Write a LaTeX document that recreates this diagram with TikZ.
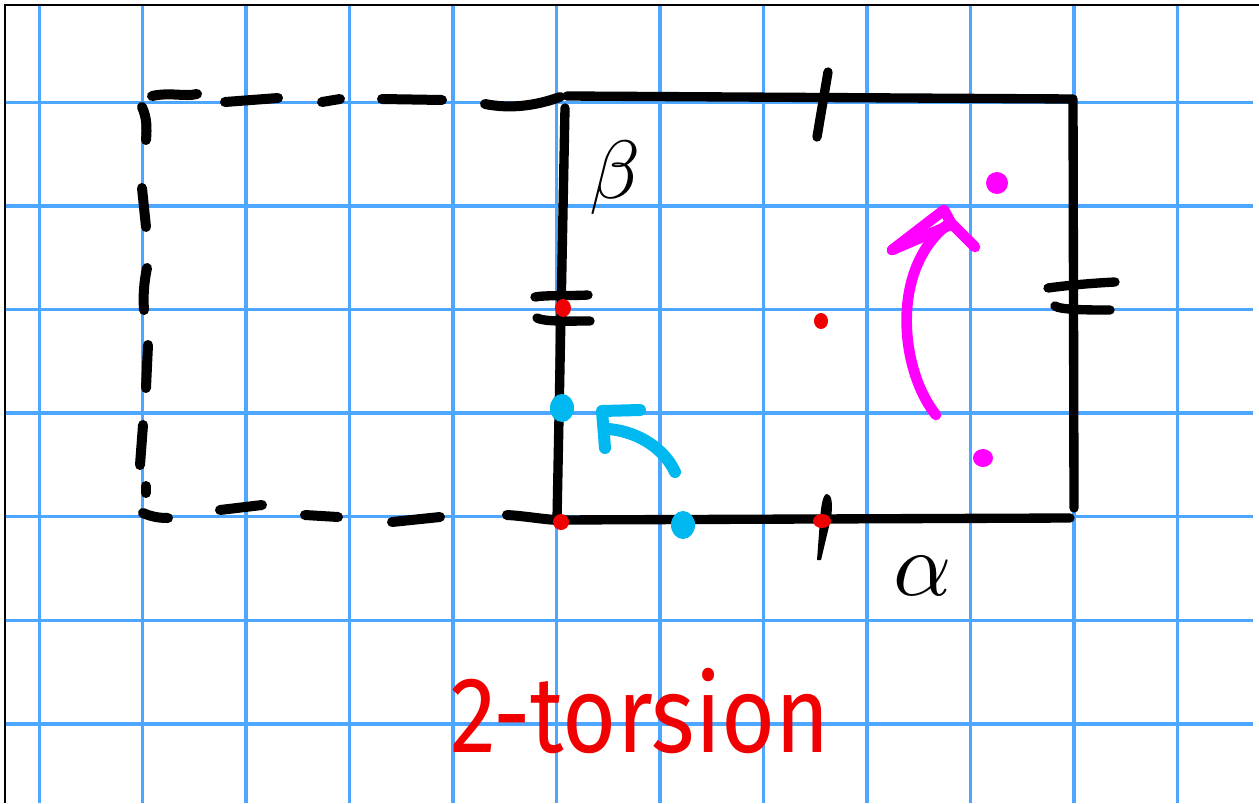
\documentclass[tikz,border=0pt]{standalone}
\usepackage{fontspec}
\setsansfont{Fira Sans}
\definecolor{gridblue}{RGB}{77,166,255}
\definecolor{dotblue}{RGB}{0,184,240}
\definecolor{mag}{RGB}{255,0,255}
\definecolor{pred}{RGB}{240,0,0}
\begin{document}
\begin{tikzpicture}[x=0.75pt,y=-0.75pt,
  gridline/.style={draw=gridblue,line width=2.6pt},
  ink/.style={draw=black,line width=7pt,line cap=round,line join=round},
  dashink/.style={draw=black,line width=7.5pt,line cap=round},
  tickink/.style={draw=black,line width=7pt,line cap=round},
  reddot/.style={fill=pred},
  bluedot/.style={fill=dotblue},
  magdot/.style={fill=mag},
  bluepen/.style={draw=dotblue,line width=9pt,line cap=round,line join=round},
  magpen/.style={draw=mag,line width=8pt,line cap=round,line join=round}]
\useasboundingbox (0,0) rectangle (1259,803);
\fill[white] (0,0) rectangle (1259,803);
% grid
\foreach \i in {0,...,11} {\draw[gridline] ({39.3+103.45*\i},5) -- ({39.3+103.45*\i},803);}
\foreach \j in {0,...,6} {\draw[gridline] (5,{102.3+103.6*\j}) -- (1253,{102.3+103.6*\j});}
% frame
\draw[black,line width=1.1pt] (5,803) -- (5,5) -- (1259,5);
% corners of the square
\coordinate (TL) at (567,96);
\coordinate (TR) at (1073,99);
\coordinate (BR) at (1074,508);
\coordinate (BL) at (557,520);
\coordinate (BRb) at (1070,518);
\coordinate (TLs) at (565,108);
% solid square
\draw[ink] (TL) -- (TR) -- (BR);
\draw[ink] (TLs) -- (BL) -- (BRb);
% dashed square: top
\draw[dashink] (152,96) .. controls (170,92) and (185,97) .. (197,94);
\draw[dashink] (225,102) -- (278,98);
\draw[dashink] (322,102) -- (340,99);
\draw[dashink] (382,99) -- (442,100);
\draw[dashink] (485,104) .. controls (510,109) and (535,106) .. (560,97);
% dashed: left
\draw[dashink] (142,107) .. controls (147,118) and (147,128) .. (146,140);
\draw[dashink] (142,188) -- (146,227);
\draw[dashink] (147,268) .. controls (144,282) and (143,296) .. (144,310);
\draw[dashink] (148,345) -- (146,388);
\draw[dashink] (143,425) -- (140,465);
\draw[dashink] (146,486) -- (146,493);
% dashed: bottom
\draw[dashink] (143,513) .. controls (152,517) and (160,518) .. (168,518);
\draw[dashink] (220,510) -- (262,505);
\draw[dashink] (305,515) -- (338,517);
\draw[dashink] (392,522) -- (440,517);
\draw[dashink] (507,515) .. controls (525,516) and (540,519) .. (557,520);
% ticks
\draw[tickink] (828,72) -- (817,137);
\draw[tickink] (535,297) .. controls (545,295) and (570,296) .. (588,295);
\draw[tickink] (537,318) .. controls (545,322) and (570,321) .. (590,321);
\draw[tickink] (1048,288) .. controls (1070,285) and (1095,283) .. (1115,282);
\draw[tickink] (1055,306) .. controls (1060,310) and (1090,310) .. (1110,310);
\fill[black] (827,494) .. controls (832,494) and (833,505) .. (831,518) -- (821,560) -- (817,560) -- (820,520) .. controls (821,505) and (823,494) .. (827,494) -- cycle;
% red dots
\fill[reddot] (563,308) ellipse (8 and 9);
\fill[reddot] (561,522) ellipse (8 and 8);
\fill[reddot] (822,521) ellipse (9 and 7);
\fill[reddot] (821,321) ellipse (7 and 8);
% blue dots and arrow
\fill[bluedot] (562,408) ellipse (12 and 14);
\fill[bluedot] (683,525) ellipse (12 and 14);
\draw[bluepen] (675,472) .. controls (665,450) and (640,432) .. (609,429);
\draw[bluepen] (605,448) -- (602,411) -- (640,410);
% magenta dots and arrow
\fill[magdot] (997,183) circle (11);
\fill[magdot] (983,458) ellipse (10 and 9);
\draw[magpen] (936,415) .. controls (900,370) and (890,270) .. (947,225);
\draw[magpen] (892,250) -- (944,210) -- (951,223) -- (975,247);
\draw[magpen] (892,250) -- (948,226);
% labels
\node[scale=6.2,inner sep=0pt] (beta) at (615,178) {$\beta$};
\node[scale=6.8,inner sep=0pt] (alpha) at (923,576) {$\alpha$};
\node[text=pred,xscale=0.86,anchor=base] (torsion) at (640,752) {\sffamily\fontsize{81}{85}\selectfont 2-torsion};
\end{tikzpicture}
\end{document}
